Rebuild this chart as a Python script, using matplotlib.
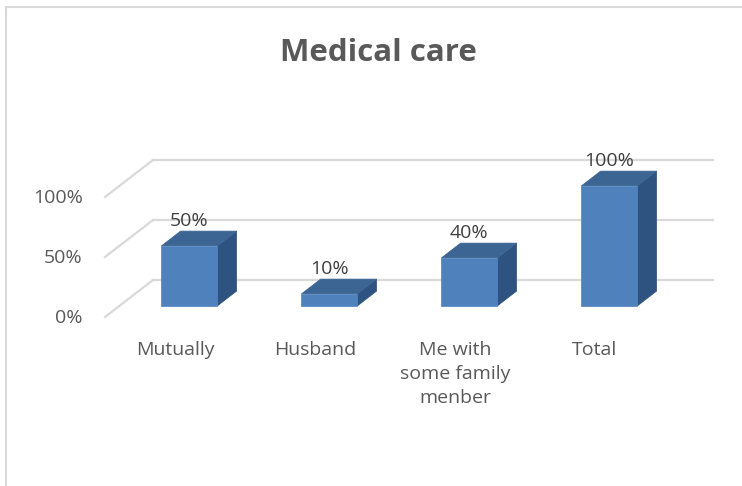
import matplotlib.pyplot as plt
from matplotlib.patches import Polygon, Rectangle

plt.rcParams['font.family'] = ['Open Sans', 'DejaVu Sans']

# data
categories = ["Mutually", "Husband", "Me with\nsome family\nmenber", "Total"]
values = [0.50, 0.10, 0.40, 1.00]
tick_values = [0.0, 0.5, 1.0]
tick_labels = ["0%", "50%", "100%"]

# oblique projection of the 3D box: a full step in depth moves the point by (DX, DY)
DX = 48 / 140
DY = 37 / 120
BAR_W = 0.4
D0, D1 = 0.3, 0.7   # bar front / back depth

FRONT = "#4F81BD"
TOP = "#3D6594"
SIDE = "#2F5380"
GRID = "#D9D9D9"


def proj(x, y, d):
    return (x + d * DX, y + d * DY)


fig = plt.figure(figsize=(7.42, 4.86), dpi=100)
ax = fig.add_axes([0, 0, 1, 1])
# 140 px per category, 120 px per 100%, front floor at pixel (105, 317)
ax.set_xlim(-105 / 140, (742 - 105) / 140)
ax.set_ylim((317 - 486) / 120, 317 / 120)
ax.axis('off')

# chart area border
fig.patches.append(Rectangle((6 / 742, -0.1), 1.2, 1 - 7 / 486 + 0.1,
                             transform=fig.transFigure, fill=False,
                             edgecolor=GRID, lw=1.5))

n = len(categories)

# back wall gridlines + side wall diagonals
for v, lab in zip(tick_values, tick_labels):
    x0, y0 = proj(0, v, 1)
    x1, y1 = proj(n, v, 1)
    ax.plot([x0, x1], [y0, y1], color=GRID, lw=1.6, zorder=1)
    ax.plot([0, x0], [v, y0], color=GRID, lw=1.6, zorder=1)
    ax.annotate(lab, (0, v), xytext=(-16, -1), textcoords='offset points',
                ha='right', va='center', fontsize=14, color='#595959')

# bars
for i, (cat, v) in enumerate(zip(categories, values)):
    xl = i + 0.5 - BAR_W / 2
    xr = i + 0.5 + BAR_W / 2
    front = [proj(xl, 0, D0), proj(xr, 0, D0), proj(xr, v, D0), proj(xl, v, D0)]
    top = [proj(xl, v, D0), proj(xr, v, D0), proj(xr, v, D1), proj(xl, v, D1)]
    side = [proj(xr, 0, D0), proj(xr, 0, D1), proj(xr, v, D1), proj(xr, v, D0)]
    ax.add_patch(Polygon(side, closed=True, facecolor=SIDE, edgecolor=SIDE, lw=0.5, zorder=3))
    ax.add_patch(Polygon(top, closed=True, facecolor=TOP, edgecolor=TOP, lw=0.5, zorder=3))
    ax.add_patch(Polygon(front, closed=True, facecolor=FRONT, edgecolor=FRONT, lw=0.5, zorder=4))

    # data label, above the back edge of the top face
    lx, _ = proj(i + 0.5, v, D0)
    _, ly = proj(i + 0.5, v, D1)
    ax.annotate(f"{v:.0%}", (lx, ly), xytext=(0, 7.5), textcoords='offset points',
                ha='center', va='center', fontsize=14, color='#404040', zorder=5)

    # category label under the front edge
    ax.annotate(cat, (i + 0.5, 0), xytext=(0, -17), textcoords='offset points',
                ha='center', va='top', fontsize=14, color='#595959',
                linespacing=1.45)

fig.text(378 / 742, 1 - 53 / 486, "Medical care", ha='center', va='center',
         fontsize=22.5, fontweight='bold', color='#595959')

plt.savefig("out.png", dpi=100)
